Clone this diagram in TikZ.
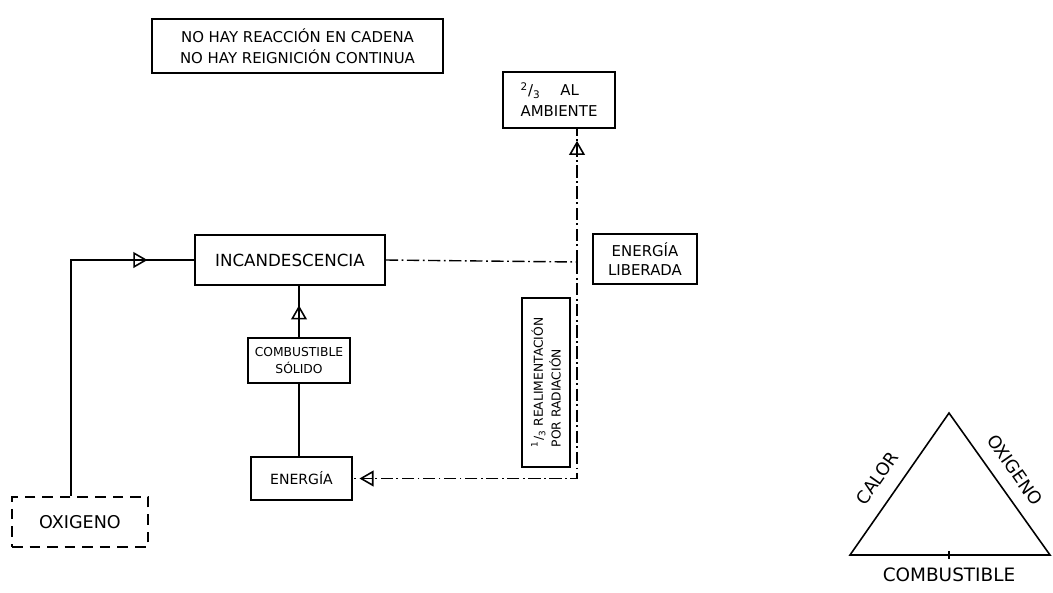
\documentclass[tikz,border=0pt]{standalone}
\usepackage{fontspec}
\setmainfont{DejaVu Sans}
\usetikzlibrary{arrows.meta, decorations.markings}
\tikzset{
  box/.style={draw, line width=1pt, align=center, inner sep=0pt},
  flow/.style={line width=0.8pt},
  dashdot/.style={line width=0.8pt, dash pattern=on 7pt off 2pt on 1pt off 2pt},
  tri arrow/.style={postaction={decorate, decoration={markings,
      mark=at position #1 with {\arrow[line width=0.9pt]{Triangle[open, length=8pt, width=9pt]}}}}}
}
\begin{document}
\begin{tikzpicture}[x=0.02cm, y=-0.02cm]
    \useasboundingbox (0,0) rectangle (1053,592);

    % Boxes
    \node[box, minimum width=5.82cm, minimum height=1.08cm, font=\fontsize{8.5}{12}\selectfont]
      (nohay) at (297.5,46) {NO HAY REACCIÓN EN CADENA\\NO HAY REIGNICIÓN CONTINUA};
    \node[box, minimum width=2.24cm, minimum height=1.12cm, align=left, font=\fontsize{8.5}{12}\selectfont]
      (amb) at (559,100) {\textsuperscript{2}/\textsubscript{3}\quad\ AL\\AMBIENTE};
    \node[box, minimum width=3.8cm, minimum height=1cm, font=\fontsize{9.5}{12}\selectfont]
      (incand) at (290,260) {INCANDESCENCIA};
    \node[box, minimum width=2.08cm, minimum height=1cm, font=\fontsize{8.5}{11}\selectfont]
      (lib) at (645,259) {ENERGÍA\\LIBERADA};
    \node[box, rotate=90, minimum width=3.38cm, minimum height=0.96cm, align=left, font=\fontsize{7}{10}\selectfont]
      (realim) at (546,382.5) {\textsuperscript{1}/\textsubscript{3} REALIMENTACIÓN\\POR RADIACIÓN};
    \node[box, minimum width=2.04cm, minimum height=0.9cm, font=\fontsize{7}{10}\selectfont]
      (comb) at (299,360.5) {COMBUSTIBLE\\SÓLIDO};
    \node[box, minimum width=2.02cm, minimum height=0.86cm, font=\fontsize{8}{10}\selectfont]
      (en) at (301.5,478.5) {ENERGÍA};
    \node[box, dash pattern=on 6pt off 4pt, minimum width=2.72cm, minimum height=1cm, font=\fontsize{10}{12}\selectfont]
      (oxi) at (80,522) {OXIGENO};

    % Connectors
    \coordinate (jn) at (577,262);
    \draw[flow, tri arrow=0.87] ([xshift=-0.18cm]oxi.north) |- (incand.west);
    \draw[flow, tri arrow=0.62] (comb.north) -- (comb.north |- incand.south);
    \draw[flow] (comb.south) -- (comb.south |- en.north);
    \draw[dashdot] (incand.east) -- (jn);
    \draw[dashdot, tri arrow=0.91] (jn) -- (jn |- amb.south);
    \draw[dashdot, tri arrow=0.985] (jn) |- (en.east);

    % Fire triangle
    \coordinate (top) at (949,413);
    \coordinate (bl) at (850,555);
    \coordinate (br) at (1050,555);
    \draw[line width=0.9pt] (bl) -- (top) -- (br) -- cycle;
    \draw[line width=0.6pt] (949,551) -- (949,559);
    \node[rotate=55, font=\fontsize{10}{12}\selectfont] (calor) at (877,478) {CALOR};
    \node[rotate=-55, font=\fontsize{10}{12}\selectfont] (oxig) at (1015,470) {OXIGENO};
    \node[font=\fontsize{10.5}{12}\selectfont] (combus) at (949,575) {COMBUSTIBLE};
\end{tikzpicture}
\end{document}
